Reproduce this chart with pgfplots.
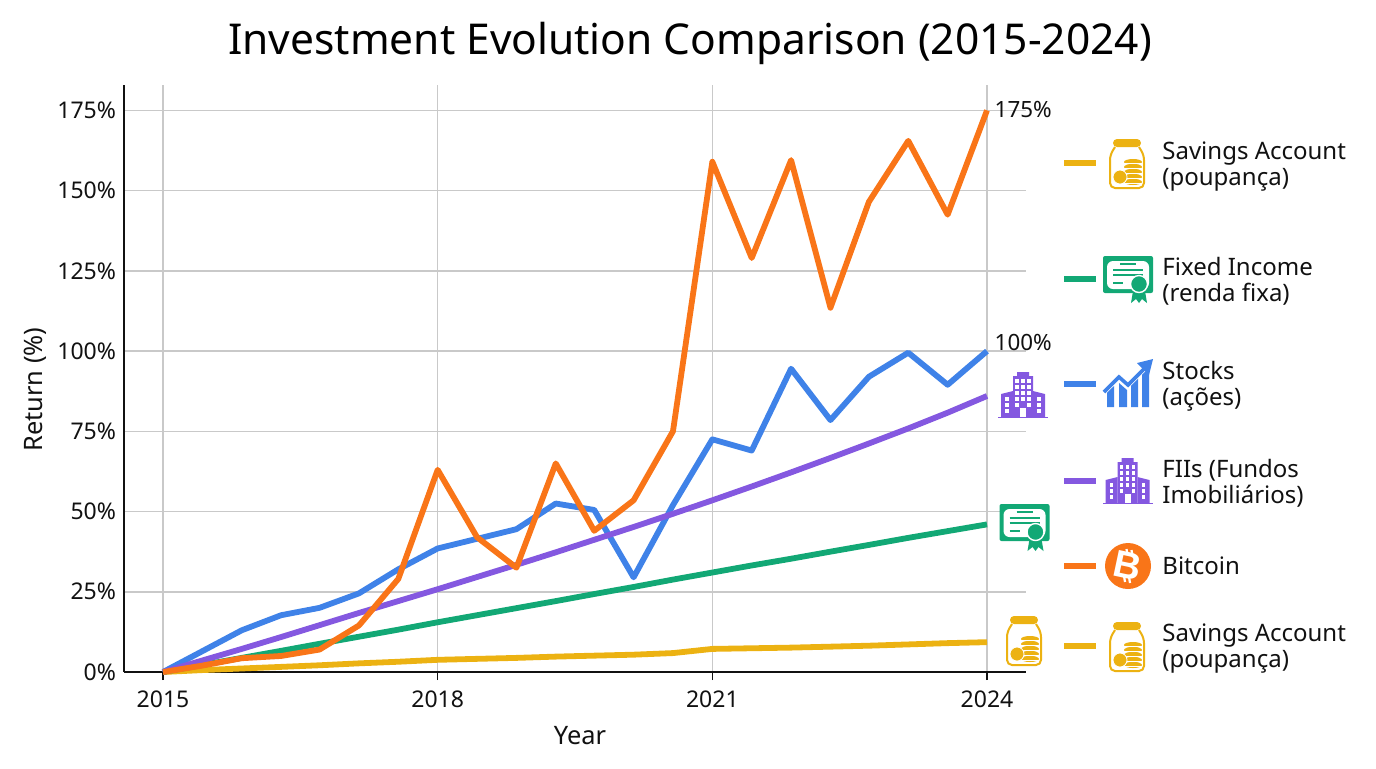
\documentclass[border=0pt]{standalone}
\usepackage{pgfplots}
\pgfplotsset{compat=1.18}
\usepackage{pgfplotstable}
\usepackage{fontspec}
\setmainfont{Noto Sans}
\newfontfamily\coinfont{Liberation Sans}

\definecolor{csave}{HTML}{ECB212}
\definecolor{cfix}{HTML}{12A875}
\definecolor{cstock}{HTML}{3F82E8}
\definecolor{cfii}{HTML}{8458E0}
\definecolor{cbtc}{HTML}{F97518}
\definecolor{cgrid}{HTML}{C9C9C9}
\definecolor{cink}{HTML}{111111}

% year  savings fixed stocks fii bitcoin (one row every 3/7 year)
\pgfplotstableread{
year     save  fix   stock  fii   btc
2015.00  0.0   0.0   0.0    0.0   0.0
2015.43  0.6   2.2   6.5    3.6   2.0
2015.86  1.1   4.4   13.0   7.2   4.3
2016.29  1.6   6.6   17.7   10.9  5.0
2016.71  2.1   8.8   20.0   14.6  7.0
2017.14  2.7   11.0  24.5   18.4  14.5
2017.57  3.2   13.2  32.0   22.1  29.0
2018.00  3.8   15.5  38.5   25.8  63.0
2018.43  4.1   17.7  41.5   29.6  42.0
2018.86  4.4   19.9  44.5   33.4  32.5
2019.29  4.8   22.1  52.5   37.3  65.0
2019.71  5.1   24.3  50.5   41.2  44.0
2020.14  5.4   26.5  29.5   45.2  53.5
2020.57  5.9   28.8  52.0   49.3  75.0
2021.00  7.2   31.0  72.5   53.5  159.0
2021.43  7.4   33.2  69.0   57.8  129.0
2021.86  7.6   35.3  94.5   62.2  159.5
2022.29  7.9   37.5  78.5   66.7  113.5
2022.71  8.2   39.6  92.0   71.2  146.5
2023.14  8.6   41.8  99.5   75.9  165.5
2023.57  9.0   43.9  89.5   80.8  142.5
2024.00  9.3   46.0  100.0  86.0  175.0
}\returns

% icons, drawn around their centre in reference pixels
\tikzset{
  jar/.pic={
    \draw[csave,line width=1pt,fill=white,rounded corners=2.5pt] (-12,-17) -- (-17,-9) -- (-17,24) -- (17,24) -- (17,-9) -- (12,-17);
    \fill[csave,rounded corners=2pt] (-14,-25) rectangle (14,-17);
    \foreach \yy in {-2,3,8,13,18} {
      \fill[csave] (6,\yy) ellipse (9 and 3);
      \draw[white,line width=.3pt] (-3,\yy+1.5) -- (15,\yy+1.5);
    }
    \fill[csave,draw=white,line width=.4pt] (-7,13) circle (7);
  },
  cert/.pic={
    \fill[cfix,rounded corners=1pt] (-25,-19) rectangle (25,18);
    \fill[white,rounded corners=3pt] (-21,-14) rectangle (21,14);
    \draw[cfix,line width=.8pt] (-8,-11) -- (8,-11) (-15,-5) -- (15,-5) (-15,0) -- (15,0) (-15,8) -- (-5,8);
    \fill[cfix] (6,10) -- (3,28) -- (8,24) -- (11,28) -- (14,24) -- (19,28) -- (16,10) -- cycle;
    \fill[cfix,draw=white,line width=.7pt] (11,9) circle (8.5);
  },
  stockicon/.pic={
    \fill[cstock] (-21,8) -- (-14,3) -- (-14,24) -- (-21,24) -- cycle;
    \fill[cstock] (-9,0) -- (-1,7) -- (-1,24) -- (-9,24) -- cycle;
    \fill[cstock] (3,2) -- (10,-5) -- (10,24) -- (3,24) -- cycle;
    \fill[cstock] (14,-9) -- (21,-16) -- (21,24) -- (14,24) -- cycle;
    \draw[white,line width=2.6pt,line join=miter] (-24,9) -- (-9,-6) -- (0,2) -- (18,-16);
    \draw[cstock,line width=1.8pt,line join=miter] (-24,9) -- (-9,-6) -- (0,2) -- (18,-16);
    \fill[cstock] (25,-24) -- (9,-20) -- (21,-8) -- cycle;
  },
  building/.pic={
    \fill[cfii] (-10,-19) -- (-6,-19) -- (-6,-23) -- (6,-23) -- (6,-19) -- (10,-19) -- (10,22) -- (-10,22) -- cycle;
    \fill[cfii] (-22,-1) -- (-10,-4) -- (-10,22) -- (-22,22) -- cycle;
    \fill[cfii] (22,-1) -- (10,-4) -- (10,22) -- (22,22) -- cycle;
    \fill[cfii] (-25,21.5) rectangle (25,23);
    \foreach \xx in {-6,0,6} \foreach \yy in {-14,-8,-2,4}
      \fill[white] (\xx-1.6,\yy-1.6) rectangle (\xx+1.6,\yy+1.6);
    \foreach \xx in {-6,6} \fill[white] (\xx-1.6,8.4) rectangle (\xx+1.6,11.6);
    \foreach \xx in {-16,16} \foreach \yy in {4,10,16}
      \fill[white] (\xx-1.6,\yy-1.6) rectangle (\xx+1.6,\yy+1.6);
    \fill[white] (-3,13) rectangle (3,22);
  },
  coin/.pic={
    \fill[cbtc] (0,0) circle (23);
    \node[white,font=\coinfont\bfseries\fontsize{19}{19}\selectfont,rotate=-12] at (0,0) {B};
    \draw[white,line width=1.1pt] (-1.5,-17) -- (-.5,-11) (3.5,-16) -- (4.5,-10) (-4,10) -- (-3,16) (1,11) -- (2,17);
  }
}

\begin{document}
\begin{tikzpicture}[line cap=butt]
\path[use as bounding box] (0,0) rectangle (688pt,-384pt);
\begin{axis}[
  at={(62pt,-336pt)}, anchor=south west,
  scale only axis, width=451pt, height=293.5pt,
  clip=false,
  xmin=2014.574, xmax=2024.426, ymin=0, ymax=182.9,
  axis x line=bottom, axis y line=left,
  axis line style={cink,line width=1pt,-},
  xtick={2015,2018,2021,2024},
  ytick={0,25,50,75,100,125,150,175},
  x tick label style={/pgf/number format/1000 sep={}},
  yticklabel={\pgfmathprintnumber{\tick}\%},
  /pgf/number format/assume math mode=true,
  tick label style={font=\fontsize{11.5}{13}\selectfont,text=cink},
  xtick style={cink,line width=.8pt}, ytick style={draw=none},
  tick align=outside, major tick length=4pt,
  y tick label style={xshift=3.5pt},
  x tick label style={yshift=-2pt},
  xmajorgrids, ymajorgrids,
  major grid style={cgrid,line width=.75pt},
  title={Investment Evolution Comparison (2015-2024)},
  title style={at={(axis description cs:0.6275,1.0511)},anchor=center,yshift=0pt,font=\fontsize{21.25}{26}\selectfont,text=black},
  xlabel={Year}, ylabel={Return (\%)},
  x label style={at={(axis description cs:0.5055,-0.108)},anchor=center,font=\fontsize{12.7}{14}\selectfont,text=cink},
  y label style={at={(axis description cs:-0.0987,0.481)},anchor=center,font=\fontsize{12.7}{14}\selectfont,text=cink},
  every axis plot/.append style={line width=2.9pt,line join=round,no markers},
]
\addplot[csave]  table[x=year,y=save]  {\returns};
\addplot[cfix]   table[x=year,y=fix]   {\returns};
\addplot[cstock] table[x=year,y=stock] {\returns};
\addplot[cfii]   table[x=year,y=fii]   {\returns};
\addplot[cbtc]   table[x=year,y=btc]   {\returns};
\node[anchor=west,font=\fontsize{11.2}{13}\selectfont,text=cink,inner sep=0pt] at (axis cs:2024.08,175.3) {175\%};
\node[anchor=west,font=\fontsize{11.2}{13}\selectfont,text=cink,inner sep=0pt] at (axis cs:2024.08,102.8) {100\%};
\end{axis}

% reference pixels from here on: origin top left, y down
\begin{scope}[x=0.5pt,y=-0.5pt]

\pic at (1024,641) {jar};
\pic at (1024.5,523) {cert};
\pic at (1023,395) {building};

\foreach \yy/\cc in {163/csave,279/cfix,384/cstock,481/cfii,566/cbtc,646/csave}
  \draw[\cc,line width=2.9pt] (1064,\yy) -- (1096,\yy);

\pic at (1127,164) {jar};
\pic at (1128,275) {cert};
\pic at (1128,383) {stockicon};
\pic at (1127.5,481) {building};
\pic at (1128,566) {coin};
\pic at (1127,647) {jar};

\tikzset{lg/.style={anchor=base west,inner sep=0pt,font=\fontsize{12}{13}\selectfont,text=cink}}
\node[lg] at (1162,159.5) {Savings Account};
\node[lg] at (1162,185) {(poupança)};
\node[lg] at (1162,275.5) {Fixed Income};
\node[lg] at (1162,301) {(renda fixa)};
\node[lg] at (1162,379.5) {Stocks};
\node[lg] at (1162,405) {(ações)};
\node[lg] at (1162,477) {FIIs (Fundos};
\node[lg] at (1162,503) {Imobiliários)};
\node[lg] at (1162,574.5) {Bitcoin};
\node[lg] at (1162,641.5) {Savings Account};
\node[lg] at (1162,667) {(poupança)};
\end{scope}
\end{tikzpicture}
\end{document}
